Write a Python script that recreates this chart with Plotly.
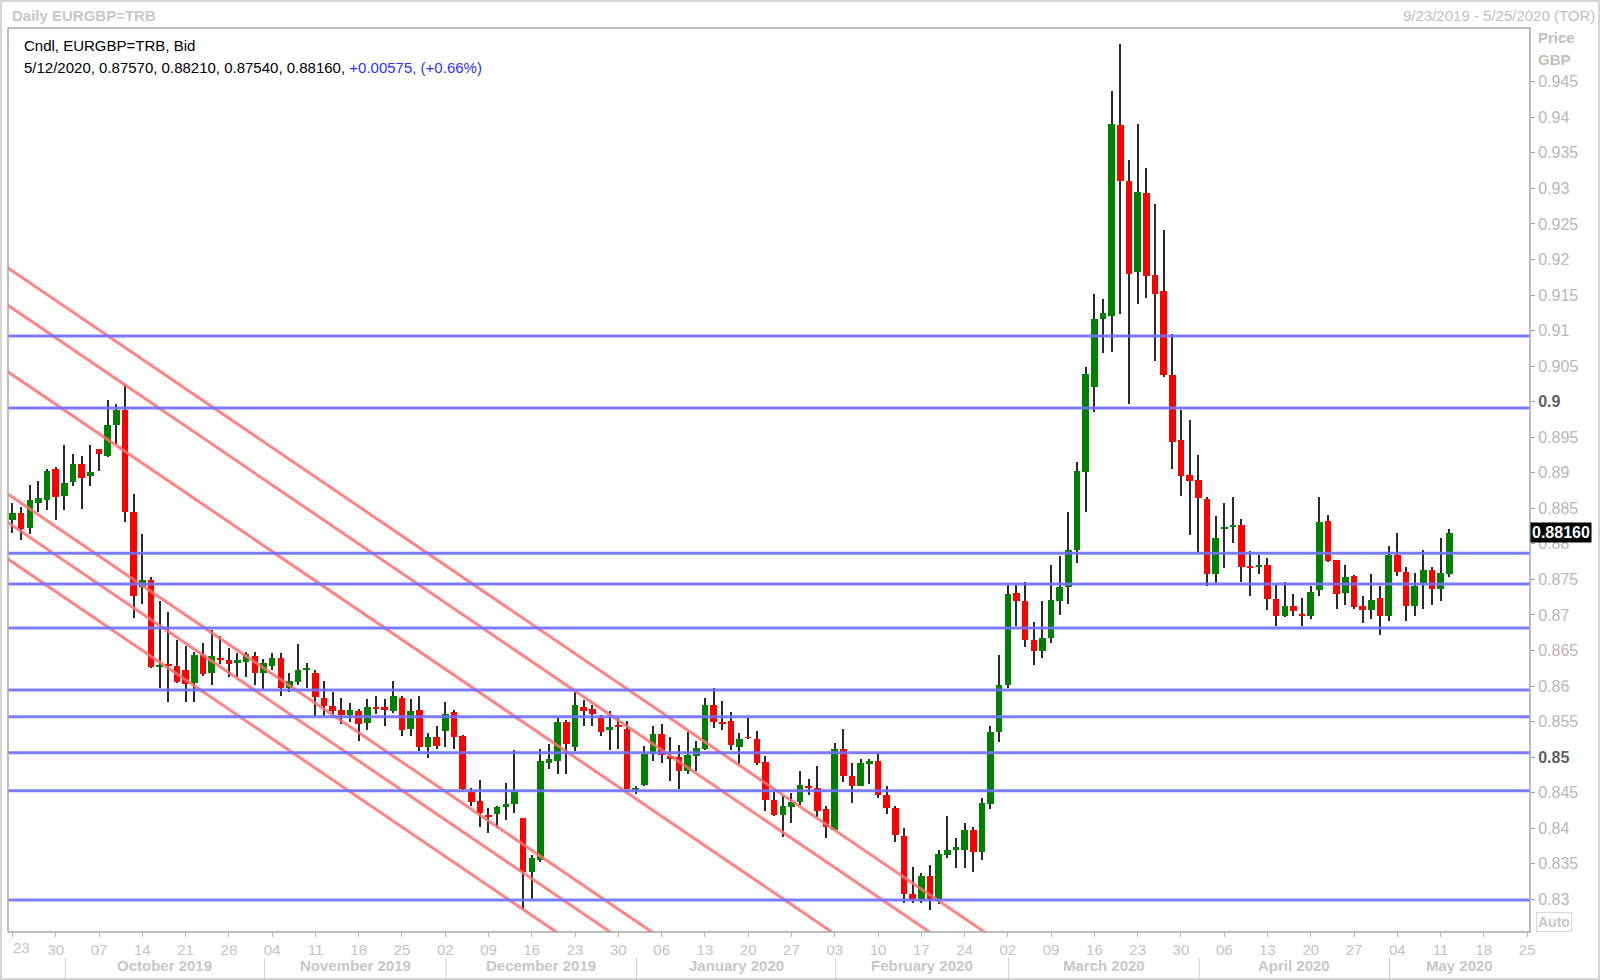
import pandas as pd
import plotly.graph_objects as go

# ---------------- data ----------------
start_date = "2019-09-23"
last_date = "2020-05-12"
axis_end_date = "2020-05-29"

opens = [
    0.8834, 0.8844, 0.8822, 0.8858, 0.8862, 0.8906, 0.8868, 0.8887, 0.8913, 0.8896,
    0.8933, 0.8924, 0.8967, 0.8988, 0.8845, 0.8740, 0.8749, 0.8627, 0.8630, 0.8628,
    0.8622, 0.8604, 0.8644, 0.8618, 0.8640, 0.8637, 0.8632, 0.8634, 0.8643, 0.8619,
    0.8628, 0.8639, 0.8597, 0.8606, 0.8623, 0.8619, 0.8583, 0.8572, 0.8566, 0.8559,
    0.8565, 0.8548, 0.8571, 0.8570, 0.8565, 0.8583, 0.8540, 0.8567, 0.8515, 0.8528,
    0.8537, 0.8563, 0.8530, 0.8451, 0.8438, 0.8419, 0.8420, 0.8430, 0.8434, 0.8414,
    0.8339, 0.8355, 0.8492, 0.8495, 0.8550, 0.8515, 0.8571, 0.8568, 0.8555, 0.8538,
    0.8544, 0.8540, 0.8455, 0.8461, 0.8504, 0.8532, 0.8501, 0.8500, 0.8480, 0.8501,
    0.8512, 0.8573, 0.8550, 0.8551, 0.8515, 0.8528, 0.8526, 0.8493, 0.8440, 0.8419,
    0.8430, 0.8437, 0.8459, 0.8456, 0.8427, 0.8398, 0.8511, 0.8473, 0.8459, 0.8491,
    0.8495, 0.8447, 0.8429, 0.8389, 0.8308, 0.8298, 0.8333, 0.8299, 0.8362, 0.8369,
    0.8370, 0.8397, 0.8366, 0.8434, 0.8535, 0.8602, 0.8731, 0.8720, 0.8665, 0.8650,
    0.8668, 0.8720, 0.8740, 0.8792, 0.8901, 0.9021, 0.9116, 0.9121, 0.9389, 0.9311,
    0.9182, 0.9293, 0.9178, 0.9156, 0.9038, 0.8946, 0.8897, 0.8890, 0.8863, 0.8758,
    0.8822, 0.8824, 0.8827, 0.8768, 0.8767, 0.8770, 0.8722, 0.8698, 0.8712, 0.8701,
    0.8699, 0.8735, 0.8832, 0.8777, 0.8731, 0.8755, 0.8712, 0.8707, 0.8724, 0.8699,
    0.8784, 0.8761, 0.8713, 0.8745, 0.8763, 0.8737, 0.8757,
]
highs = [
    0.8858, 0.8852, 0.8883, 0.8889, 0.8906, 0.8908, 0.8939, 0.8926, 0.8924, 0.8939,
    0.8934, 0.9002, 0.8997, 0.9023, 0.8870, 0.8814, 0.8754, 0.8719, 0.8704, 0.8665,
    0.8656, 0.8648, 0.8660, 0.8679, 0.8671, 0.8653, 0.8646, 0.8648, 0.8648, 0.8638,
    0.8647, 0.8647, 0.8619, 0.8659, 0.8632, 0.8622, 0.8607, 0.8591, 0.8583, 0.8576,
    0.8568, 0.8582, 0.8586, 0.8582, 0.8607, 0.8586, 0.8582, 0.8586, 0.8534, 0.8544,
    0.8577, 0.8566, 0.8531, 0.8456, 0.8468, 0.8428, 0.8432, 0.8464, 0.8510, 0.8414,
    0.8362, 0.8511, 0.8519, 0.8555, 0.8552, 0.8591, 0.8581, 0.8573, 0.8559, 0.8565,
    0.8555, 0.8551, 0.8459, 0.8516, 0.8544, 0.8547, 0.8528, 0.8517, 0.8535, 0.8523,
    0.8583, 0.8598, 0.8579, 0.8564, 0.8534, 0.8555, 0.8537, 0.8501, 0.8451, 0.8445,
    0.8450, 0.8481, 0.8469, 0.8488, 0.8431, 0.8520, 0.8539, 0.8492, 0.8498, 0.8498,
    0.8504, 0.8459, 0.8431, 0.8401, 0.8345, 0.8337, 0.8348, 0.8369, 0.8417, 0.8386,
    0.8407, 0.8402, 0.8443, 0.8544, 0.8644, 0.8742, 0.8742, 0.8746, 0.8690, 0.8719,
    0.8770, 0.8783, 0.8845, 0.8915, 0.9049, 0.9152, 0.9144, 0.9437, 0.9503, 0.9340,
    0.9391, 0.9328, 0.9278, 0.9242, 0.9095, 0.8988, 0.8974, 0.8925, 0.8866, 0.8839,
    0.8857, 0.8866, 0.8835, 0.8790, 0.8784, 0.8780, 0.8742, 0.8746, 0.8730, 0.8724,
    0.8741, 0.8866, 0.8841, 0.8778, 0.8770, 0.8756, 0.8727, 0.8758, 0.8741, 0.8797,
    0.8816, 0.8768, 0.8759, 0.8792, 0.8767, 0.8808, 0.8821,
]
lows = [
    0.8815, 0.8805, 0.8814, 0.8845, 0.8848, 0.8833, 0.8848, 0.8882, 0.8849, 0.8882,
    0.8903, 0.8922, 0.8941, 0.8831, 0.8696, 0.8716, 0.8626, 0.8598, 0.8578, 0.8605,
    0.8578, 0.8577, 0.8614, 0.8601, 0.8631, 0.8613, 0.8613, 0.8613, 0.8601, 0.8596,
    0.8623, 0.8586, 0.8591, 0.8602, 0.8598, 0.8558, 0.8558, 0.8559, 0.8546, 0.8550,
    0.8523, 0.8538, 0.8561, 0.8544, 0.8562, 0.8530, 0.8530, 0.8509, 0.8499, 0.8512,
    0.8514, 0.8512, 0.8454, 0.8431, 0.8402, 0.8393, 0.8401, 0.8411, 0.8422, 0.8287,
    0.8300, 0.8352, 0.8484, 0.8476, 0.8476, 0.8508, 0.8544, 0.8544, 0.8530, 0.8510,
    0.8512, 0.8455, 0.8448, 0.8459, 0.8495, 0.8492, 0.8466, 0.8455, 0.8477, 0.8480,
    0.8510, 0.8541, 0.8538, 0.8510, 0.8491, 0.8526, 0.8489, 0.8424, 0.8417, 0.8388,
    0.8408, 0.8433, 0.8447, 0.8416, 0.8387, 0.8397, 0.8465, 0.8435, 0.8459, 0.8462,
    0.8443, 0.8420, 0.8381, 0.8295, 0.8295, 0.8295, 0.8285, 0.8294, 0.8358, 0.8344,
    0.8344, 0.8338, 0.8356, 0.8427, 0.8522, 0.8597, 0.8684, 0.8655, 0.8630, 0.8640,
    0.8660, 0.8700, 0.8716, 0.8773, 0.8845, 0.8985, 0.9068, 0.9070, 0.9123, 0.8997,
    0.9137, 0.9146, 0.9057, 0.9035, 0.8906, 0.8867, 0.8813, 0.8788, 0.8741, 0.8745,
    0.8766, 0.8801, 0.8747, 0.8726, 0.8758, 0.8707, 0.8684, 0.8697, 0.8698, 0.8684,
    0.8694, 0.8727, 0.8775, 0.8709, 0.8714, 0.8709, 0.8689, 0.8694, 0.8672, 0.8691,
    0.8755, 0.8692, 0.8699, 0.8709, 0.8714, 0.8719, 0.8754,
]
closes = [
    0.8844, 0.8821, 0.8862, 0.8865, 0.8903, 0.8866, 0.8886, 0.8913, 0.8892, 0.8901,
    0.8927, 0.8967, 0.8988, 0.8845, 0.8726, 0.8749, 0.8627, 0.8629, 0.8629, 0.8606,
    0.8603, 0.8644, 0.8617, 0.8642, 0.8636, 0.8631, 0.8637, 0.8645, 0.8618, 0.8633,
    0.8639, 0.8597, 0.8607, 0.8623, 0.8625, 0.8584, 0.8572, 0.8565, 0.8559, 0.8566,
    0.8546, 0.8571, 0.8569, 0.8566, 0.8586, 0.8538, 0.8565, 0.8514, 0.8528, 0.8516,
    0.8561, 0.8529, 0.8455, 0.8437, 0.8422, 0.8416, 0.8430, 0.8434, 0.8451, 0.8339,
    0.8358, 0.8495, 0.8497, 0.8550, 0.8519, 0.8573, 0.8565, 0.8561, 0.8536, 0.8543,
    0.8543, 0.8455, 0.8457, 0.8504, 0.8532, 0.8503, 0.8497, 0.8480, 0.8503, 0.8513,
    0.8573, 0.8549, 0.8548, 0.8517, 0.8525, 0.8527, 0.8492, 0.8440, 0.8419, 0.8431,
    0.8437, 0.8461, 0.8458, 0.8425, 0.8402, 0.8511, 0.8473, 0.8459, 0.8492, 0.8495,
    0.8447, 0.8428, 0.8390, 0.8308, 0.8299, 0.8333, 0.8300, 0.8364, 0.8369, 0.8374,
    0.8397, 0.8366, 0.8436, 0.8536, 0.8602, 0.8730, 0.8720, 0.8665, 0.8650, 0.8668,
    0.8721, 0.8740, 0.8792, 0.8902, 0.9039, 0.9116, 0.9125, 0.9391, 0.9311, 0.9179,
    0.9295, 0.9177, 0.9152, 0.9038, 0.8943, 0.8895, 0.8889, 0.8865, 0.8758, 0.8808,
    0.8824, 0.8827, 0.8767, 0.8767, 0.8770, 0.8722, 0.8699, 0.8712, 0.8705, 0.8699,
    0.8733, 0.8831, 0.8776, 0.8730, 0.8753, 0.8711, 0.8707, 0.8721, 0.8699, 0.8784,
    0.8761, 0.8712, 0.8741, 0.8763, 0.8737, 0.87585, 0.8816,
]

# horizontal support / resistance levels (blue)
level_prices = [0.90923, 0.89911, 0.87867, 0.87435, 0.86816,
                0.85944, 0.85568, 0.85062, 0.84528, 0.82990]

# parallel down-trend lines (red): price at two anchor dates
trend_anchor_dates = ["2019-09-23", "2020-02-03"]
trend_start_prices = [0.91837, 0.91311, 0.90377, 0.88656, 0.88258, 0.87742]
trend_end_prices = [0.83973, 0.83447, 0.82513, 0.80792, 0.80394, 0.79878]

y_ticks = [round(0.83 + 0.005 * k, 3) for k in range(24)]
bold_ticks = [0.85, 0.9]
last_price_label = "0.88160"
last_price = 0.8816

# ---------------- helpers ----------------
FONT = "Liberation Sans, Arial, sans-serif"
all_days = pd.bdate_range(start_date, axis_end_date)
pos = {d: i for i, d in enumerate(all_days)}
candle_days = pd.bdate_range(start_date, last_date)
xs = [pos[d] for d in candle_days]

up_x, up_b, up_h = [], [], []
dn_x, dn_b, dn_h = [], [], []
nt_x, nt_b, nt_h = [], [], []
MINH = 0.00007
for x, o, c in zip(xs, opens, closes):
    lo, h = min(o, c), max(abs(c - o), MINH)
    if abs(c - o) < 0.00004:
        nt_x.append(x); nt_b.append(lo); nt_h.append(h)
    elif c > o:
        up_x.append(x); up_b.append(lo); up_h.append(h)
    else:
        dn_x.append(x); dn_b.append(lo); dn_h.append(h)

fig = go.Figure()

# wicks
fig.add_trace(go.Bar(x=xs, base=lows, y=[h - l for h, l in zip(highs, lows)],
                     width=0.13, marker=dict(color="#2a2a2a", line=dict(width=0)),
                     hoverinfo="skip"))
BW = 0.76
fig.add_trace(go.Bar(x=up_x, base=up_b, y=up_h, width=BW,
                     marker=dict(color="#008000", line=dict(width=0)), hoverinfo="skip"))
fig.add_trace(go.Bar(x=dn_x, base=dn_b, y=dn_h, width=BW,
                     marker=dict(color="#ff0000", line=dict(width=0)), hoverinfo="skip"))
fig.add_trace(go.Bar(x=nt_x, base=nt_b, y=nt_h, width=BW,
                     marker=dict(color="#222222", line=dict(width=0)), hoverinfo="skip"))

# trend lines (extended through the anchors, clipped by the plot area)
i0 = pos[pd.Timestamp(trend_anchor_dates[0])]
i1 = pos[pd.Timestamp(trend_anchor_dates[1])]
xl, xr = -2, 180
for p0, p1 in zip(trend_start_prices, trend_end_prices):
    slope = (p1 - p0) / (i1 - i0)
    fig.add_trace(go.Scatter(x=[xl, xr], y=[p0 + slope * (xl - i0), p0 + slope * (xr - i0)],
                             mode="lines", line=dict(color="rgba(255,110,110,0.85)", width=3),
                             hoverinfo="skip"))

# horizontal levels
for p in level_prices:
    fig.add_shape(type="line", xref="paper", x0=0, x1=1, yref="y", y0=p, y1=p,
                  line=dict(color="rgba(110,110,255,0.9)", width=3))

# x ticks: Mondays (the first label is drawn a little to the right, as in the source)
mondays = [d for d in all_days if d.weekday() == 0]
tickvals = [pos[d] for d in mondays]
ticktext = [d.strftime("%d") for d in mondays]
first_label = ticktext[0]
ticktext[0] = ""

# month separators / labels
x_min, x_max = -0.52, 175.33
month_starts = []
seen = set()
for d in all_days:
    key = (d.year, d.month)
    if key not in seen:
        seen.add(key)
        month_starts.append(d)
month_starts = month_starts[1:]  # first (September) begins at the left edge
sep_x = [pos[d] + 0.1 for d in month_starts]
bounds = sep_x + [x_max]
for k, d in enumerate(month_starts):
    fig.add_annotation(x=(bounds[k] + bounds[k + 1]) / 2, xref="x", y=-0.0376, yref="paper",
                       text="<b>" + d.strftime("%B %Y") + "</b>", showarrow=False,
                       font=dict(family=FONT, size=15, color="#c8c8c8"), yanchor="middle")
for sx in sep_x:
    fig.add_shape(type="line", xref="x", x0=sx, x1=sx, yref="paper", y0=-0.0285, y1=-0.051,
                  line=dict(color="#d0d0d0", width=1))

# y tick text
ytext = []
for v in y_ticks:
    s = f"{v:g}"
    if any(abs(v - b) < 1e-9 for b in bold_ticks):
        s = f'<b><span style="color:#606060">{s}</span></b>'
    ytext.append(s)

fig.update_layout(
    width=1600, height=980,
    margin=dict(l=8, r=70, t=28, b=48, pad=0),
    paper_bgcolor="white", plot_bgcolor="white",
    barmode="overlay", bargap=0, showlegend=False, hovermode=False,
    xaxis=dict(range=[x_min, x_max], tickvals=tickvals, ticktext=ticktext,
               ticks="outside", ticklen=4, tickcolor="#b0b0b0",
               tickfont=dict(family=FONT, size=15, color="#c4c4c4"),
               showgrid=False, zeroline=False, showline=False, fixedrange=True),
    yaxis=dict(range=[0.82541, 0.95256], side="right", tickvals=y_ticks, ticktext=ytext,
               ticks="outside", ticklen=4, tickcolor="#a0a0a0",
               tickfont=dict(family=FONT, size=16, color="#b8b8b8"),
               showgrid=False, zeroline=False, showline=False, fixedrange=True),
)

fig.add_annotation(x=tickvals[0] + 1.0, xref="x", y=-15 / 904, yref="paper",
                   text=first_label, showarrow=False, yanchor="middle",
                   font=dict(family=FONT, size=15, color="#c4c4c4"))

# plot frame
fig.add_shape(type="rect", xref="paper", yref="paper", x0=0, x1=1, y0=0, y1=1,
              line=dict(color="#a8a8a8", width=1.5), layer="above")
# outer window frame
fig.add_shape(type="rect", xref="paper", yref="paper",
              x0=-7 / 1522, x1=1591 / 1522, y0=-47 / 904, y1=1 + 27 / 904,
              line=dict(color="#c8c8c8", width=1.5))

# texts
fig.add_annotation(xref="paper", yref="paper", x=2 / 1522, y=1 + 13 / 904, xanchor="left",
                   yanchor="middle", showarrow=False, text="<b>Daily EURGBP=TRB</b>",
                   font=dict(family=FONT, size=15, color="#c8c8c8"))
fig.add_annotation(xref="paper", yref="paper", x=1589 / 1522, y=1 + 13 / 904, xanchor="right",
                   yanchor="middle", showarrow=False, text="9/23/2019 - 5/25/2020 (TOR)",
                   font=dict(family=FONT, size=15, color="#c0c0c0"))
fig.add_annotation(xref="paper", yref="paper", x=14 / 1522, y=1 - 18 / 904, xanchor="left",
                   yanchor="middle", showarrow=False, text="Cndl, EURGBP=TRB, Bid",
                   font=dict(family=FONT, size=15, color="#000000"))
fig.add_annotation(xref="paper", yref="paper", x=14 / 1522, y=1 - 39 / 904, xanchor="left",
                   yanchor="middle", showarrow=False,
                   text=('5/12/2020, 0.87570, 0.88210, 0.87540, 0.88160, '
                         '<span style="color:#2f2fff">+0.00575, (+0.66%)</span>'),
                   font=dict(family=FONT, size=15, color="#000000"))
fig.add_annotation(xref="paper", yref="paper", x=1 + 6 / 1522, y=1 - 10 / 904, xanchor="left",
                   yanchor="middle", showarrow=False, text="<b>Price</b>",
                   font=dict(family=FONT, size=15, color="#c0c0c0"))
fig.add_annotation(xref="paper", yref="paper", x=1 + 6 / 1522, y=1 - 31 / 904, xanchor="left",
                   yanchor="middle", showarrow=False, text="<b>GBP</b>",
                   font=dict(family=FONT, size=15, color="#c0c0c0"))
fig.add_annotation(xref="paper", yref="y", x=1, y=last_price, xanchor="left",
                   yanchor="middle", showarrow=False, text=f"<b>{last_price_label}</b>",
                   font=dict(family=FONT, size=16, color="#ffffff"),
                   bgcolor="#000000", borderpad=1)
fig.add_annotation(xref="paper", yref="paper", x=1 + 6 / 1522, y=0, xanchor="left",
                   yanchor="bottom", showarrow=False, text="<b>Auto</b>",
                   font=dict(family=FONT, size=14, color="#c8c8c8"),
                   bordercolor="#d8d8d8", borderwidth=1, borderpad=1)

fig.write_html("out.html", config={"displayModeBar": False},
               post_script="document.body.style.margin='0px';document.body.style.padding='0px';")
